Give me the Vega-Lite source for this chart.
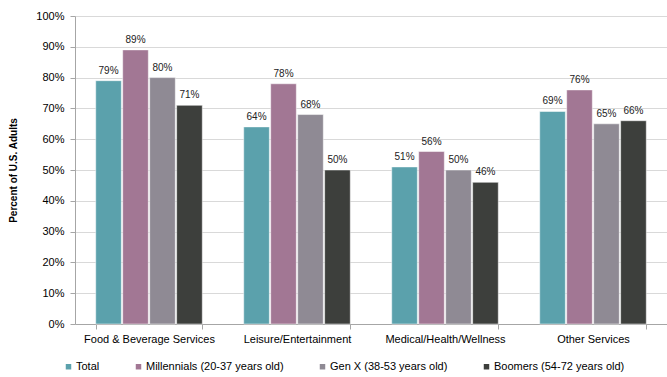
{
  "$schema": "https://vega.github.io/schema/vega-lite/v6.json",
  "width": 667,
  "height": 377,
  "autosize": {"type": "fit", "contains": "padding"},
  "padding": {"left": 8, "top": 10, "right": 0, "bottom": 33},
  "background": "white",
  "config": {
    "font": "Liberation Sans",
    "view": {"stroke": null}
  },
  "data": {
    "values": [
      {"category": "Food & Beverage Services", "group": "Total", "value": 0.79},
      {"category": "Food & Beverage Services", "group": "Millennials (20-37 years old)", "value": 0.89},
      {"category": "Food & Beverage Services", "group": "Gen X (38-53 years old)", "value": 0.80},
      {"category": "Food & Beverage Services", "group": "Boomers (54-72 years old)", "value": 0.71},
      {"category": "Leisure/Entertainment", "group": "Total", "value": 0.64},
      {"category": "Leisure/Entertainment", "group": "Millennials (20-37 years old)", "value": 0.78},
      {"category": "Leisure/Entertainment", "group": "Gen X (38-53 years old)", "value": 0.68},
      {"category": "Leisure/Entertainment", "group": "Boomers (54-72 years old)", "value": 0.50},
      {"category": "Medical/Health/Wellness", "group": "Total", "value": 0.51},
      {"category": "Medical/Health/Wellness", "group": "Millennials (20-37 years old)", "value": 0.56},
      {"category": "Medical/Health/Wellness", "group": "Gen X (38-53 years old)", "value": 0.50},
      {"category": "Medical/Health/Wellness", "group": "Boomers (54-72 years old)", "value": 0.46},
      {"category": "Other Services", "group": "Total", "value": 0.69},
      {"category": "Other Services", "group": "Millennials (20-37 years old)", "value": 0.76},
      {"category": "Other Services", "group": "Gen X (38-53 years old)", "value": 0.65},
      {"category": "Other Services", "group": "Boomers (54-72 years old)", "value": 0.66}
    ]
  },
  "encoding": {
    "x": {
      "field": "category", "type": "nominal", "sort": null,
      "scale": {"paddingInner": 0.28, "paddingOuter": 0.14},
      "axis": {
        "title": null, "labelAngle": 0, "labelFontSize": 11, "labelColor": "#000000",
        "tickBand": "extent", "domainColor": "#a6a6a6", "tickColor": "#a6a6a6",
        "tickSize": 5, "labelPadding": 4
      }
    },
    "xOffset": {
      "field": "group", "type": "nominal", "sort": null,
      "scale": {"paddingInner": 0.05}
    },
    "y": {
      "field": "value", "type": "quantitative",
      "scale": {"domain": [0, 1]},
      "axis": {
        "title": "Percent of U.S. Adults", "titleFontSize": 10, "titleFontWeight": "bold",
        "titleColor": "#000000", "titlePadding": 17,
        "format": ".0%", "tickCount": 10, "labelFontSize": 11, "labelColor": "#000000",
        "gridColor": "#d9d9d9", "domainColor": "#a6a6a6", "tickColor": "#a6a6a6",
        "tickSize": 5, "labelPadding": 6
      }
    }
  },
  "layer": [
    {
      "mark": {"type": "bar", "stroke": "#ffffff", "strokeWidth": 0.5},
      "encoding": {
        "color": {
          "field": "group", "type": "nominal", "sort": null,
          "scale": {
            "domain": ["Total", "Millennials (20-37 years old)", "Gen X (38-53 years old)", "Boomers (54-72 years old)"],
            "range": ["#5ba1ac", "#a27794", "#8f8a94", "#3d3f3c"]
          },
          "legend": {
            "title": null, "orient": "none", "direction": "horizontal",
            "legendX": -12, "legendY": 345,
            "symbolType": "square", "symbolSize": 30, "symbolStrokeWidth": 0,
            "labelFontSize": 11, "labelColor": "#000000", "columnPadding": 33,
            "labelOffset": 2
          }
        }
      }
    },
    {
      "mark": {"type": "text", "baseline": "bottom", "dy": -5, "fontSize": 10, "color": "#222222"},
      "encoding": {
        "text": {"field": "value", "type": "quantitative", "format": ".0%"}
      }
    }
  ]
}
